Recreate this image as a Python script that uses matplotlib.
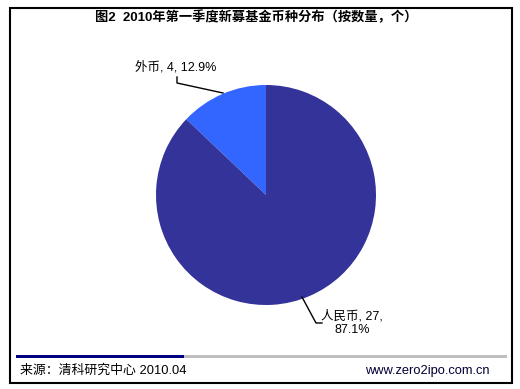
import matplotlib
matplotlib.use("Agg")
import matplotlib.pyplot as plt
from matplotlib.patches import Rectangle

plt.rcParams['font.family'] = ['Liberation Sans', 'Noto Sans CJK SC', 'DejaVu Sans']

title = "图2  2010年第一季度新募基金币种分布（按数量，个）"
categories = ["外币", "人民币"]
counts = [4, 27]
percents = [12.9, 87.1]
colors = ["#3366FF", "#333399"]
source = "来源：清科研究中心 2010.04"
site = "www.zero2ipo.com.cn"

W, H = 520, 389
fig = plt.figure(figsize=(W / 100, H / 100), dpi=100)
ax = fig.add_axes([0, 0, 1, 1])
ax.set_xlim(0, W)
ax.set_ylim(0, H)
ax.set_aspect('equal')
ax.axis('off')

def y(py):
    # pixel row from the top -> data y
    return H - py

# outer frame
ax.add_patch(Rectangle((9.5, y(382.5)), 502, 375, fill=False, lw=1.5, ec='black'))

ax.text(256, y(17), title, ha='center', va='center', fontsize=9.5, fontweight='bold')

wedges, _ = ax.pie(counts, colors=colors, startangle=90, counterclock=True,
                   center=(266, y(195)), radius=110,
                   wedgeprops=dict(linewidth=0))
ax.set_xlim(0, W)
ax.set_ylim(0, H)

# labels with leader lines
lab0 = "%s, %d, %.1f%%" % (categories[0], counts[0], percents[0])
ax.text(135, y(67), lab0, ha='left', va='center', fontsize=9)
ax.plot([177, 177, 223], [y(77), y(83), y(93)], color='black', lw=1)

lab1 = "%s, %d,\n%.1f%%" % (categories[1], counts[1], percents[1])
ax.text(352, y(323), lab1, ha='center', va='center', fontsize=9, linespacing=1.15)
ax.plot([302, 316, 322], [y(297), y(323), y(323)], color='black', lw=1)

# footer bars
ax.add_patch(Rectangle((16, y(358)), 168, 3, color='#000080', lw=0))
ax.add_patch(Rectangle((184, y(358)), 323, 3, color='#BEBEBE', lw=0))

ax.text(20, y(371), source, ha='left', va='center', fontsize=9.3)
ax.text(490, y(371), site, ha='right', va='center', fontsize=9.3, color='#000033')

fig.savefig("out.png", dpi=100)
